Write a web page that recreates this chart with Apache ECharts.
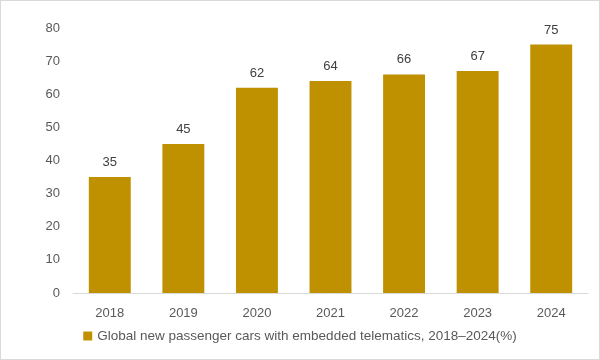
<!DOCTYPE html>
<html><head><meta charset="utf-8">
<script src="https://cdn.jsdelivr.net/npm/echarts@6/dist/echarts.min.js"></script>
<style>html,body{margin:0;padding:0;background:#fff}#c{width:598px;height:358px;border:1px solid #d9d9d9}</style>
</head><body><div id="c"></div>
<script>
var categories = ['2018','2019','2020','2021','2022','2023','2024'];
var values = [35,45,62,64,66,67,75];
var seriesName = 'Global new passenger cars with embedded telematics, 2018\u20132024(%)';
var chart = echarts.init(document.getElementById('c'));
var font = 'Liberation Sans';
chart.setOption({
  animation:false,
  textStyle:{fontFamily:font},
  grid:{left:72,right:11,top:27,bottom:66},
  legend:{bottom:11,left:'center',itemWidth:9,itemHeight:9,itemGap:4,icon:'rect',
    textStyle:{color:'#595959',fontSize:13.5,fontFamily:font},data:[seriesName]},
  xAxis:{type:'category',data:categories,axisLine:{lineStyle:{color:'#d9d9d9'}},axisTick:{show:false},
    axisLabel:{color:'#595959',fontSize:13,margin:14,fontFamily:font}},
  yAxis:{type:'value',min:0,max:80,interval:10,splitLine:{show:false},axisLine:{show:false},axisTick:{show:false},
    axisLabel:{color:'#595959',fontSize:13,margin:13,fontFamily:font}},
  series:[{name:seriesName,type:'bar',data:values,barCategoryGap:'43%',itemStyle:{color:'#BF9000'},
    label:{show:true,position:'top',distance:8,color:'#404040',fontSize:13,fontFamily:font}}]
});
</script></body></html>
